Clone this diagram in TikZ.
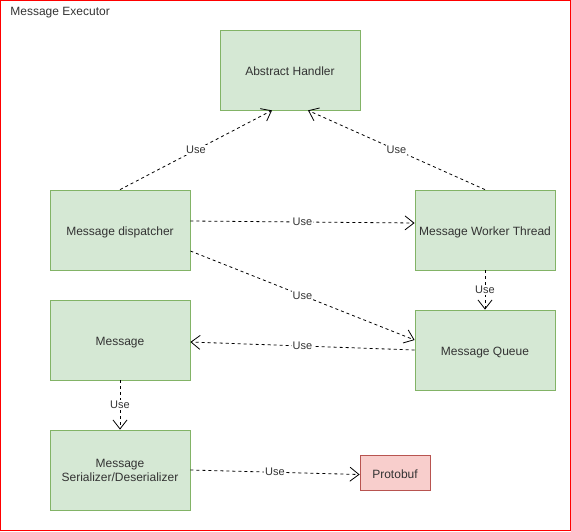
\documentclass[tikz,border=0pt]{standalone}
\usepackage{fontspec}
\setmainfont{Liberation Sans}
\usetikzlibrary{arrows.meta}
\definecolor{boxfill}{HTML}{D5E8D4}
\definecolor{boxline}{HTML}{82B366}
\definecolor{extfill}{HTML}{F8CECC}
\definecolor{extline}{HTML}{B85450}
\definecolor{txt}{HTML}{333333}
\begin{document}
\begin{tikzpicture}[x=1pt,y=-1pt,>={Straight Barb[length=9pt,width=14pt]},line width=0.8pt]

    % ============================
    % Frame
    % ============================

    \tikzstyle{block}=[rectangle,draw=boxline,fill=boxfill,minimum width=140pt,
            minimum height=80pt,align=center,text=txt,font=\fontsize{12}{14}\selectfont]
    \tikzstyle{comp}=[block,text height=11pt,text depth=0pt]
    \tikzstyle{ext}=[rectangle,draw=extline,fill=extfill,minimum width=70pt,
            minimum height=35pt,text=txt,font=\fontsize{12}{14}\selectfont,
            text height=11pt,text depth=0pt]
    \tikzstyle{use}=[->,dashed,dash pattern=on 3pt off 3pt,line width=0.8pt]
    \tikzstyle{lbl}=[fill=white,inner sep=1pt,font=\fontsize{11}{12}\selectfont,text=txt]

    \useasboundingbox (0,0) rectangle (571,531);
    \draw[red,line width=1pt] (0.5,0.5) rectangle (570.5,530.5);
    \node[anchor=base west,inner sep=0pt,text=txt,font=\fontsize{12}{14}\selectfont]
            (title) at (10,15) {Message Executor};

    % ============================
    % Components
    % ============================

    \node[comp] (handler) at (290,70) {Abstract Handler};
    \node[comp] (dispatcher) at (120,230) {Message dispatcher};
    \node[comp] (worker) at (485,230) {Message Worker Thread};
    \node[comp] (message) at (120,340) {Message};
    \node[comp] (queue) at (485,350) {Message Queue};
    \node[block] (serializer) at (120,470) {Message\\Serializer/Deserializer};
    \node[ext] (protobuf) at (395,472.5) {Protobuf};

    % Use relations
    \draw[use] (dispatcher.north) -- node[lbl]{Use} ([xshift=-18pt]handler.south);
    \draw[use] (worker.north) -- node[lbl]{Use} ([xshift=18pt]handler.south);
    \draw[use] ([yshift=9pt]dispatcher.east) -- node[lbl]{Use} ([yshift=7pt]worker.west);
    \draw[use] ([yshift=-21pt]dispatcher.east) -- node[lbl]{Use} ([yshift=10pt]queue.west);
    \draw[use] (worker.south) -- node[lbl]{Use} (queue.north);
    \draw[use] (queue.west) -- node[lbl]{Use} ([yshift=-2pt]message.east);
    \draw[use] (message.south) -- node[lbl]{Use} (serializer.north);
    \draw[use] (serializer.east) -- node[lbl]{Use} ([yshift=-2pt]protobuf.west);

\end{tikzpicture}
\end{document}
